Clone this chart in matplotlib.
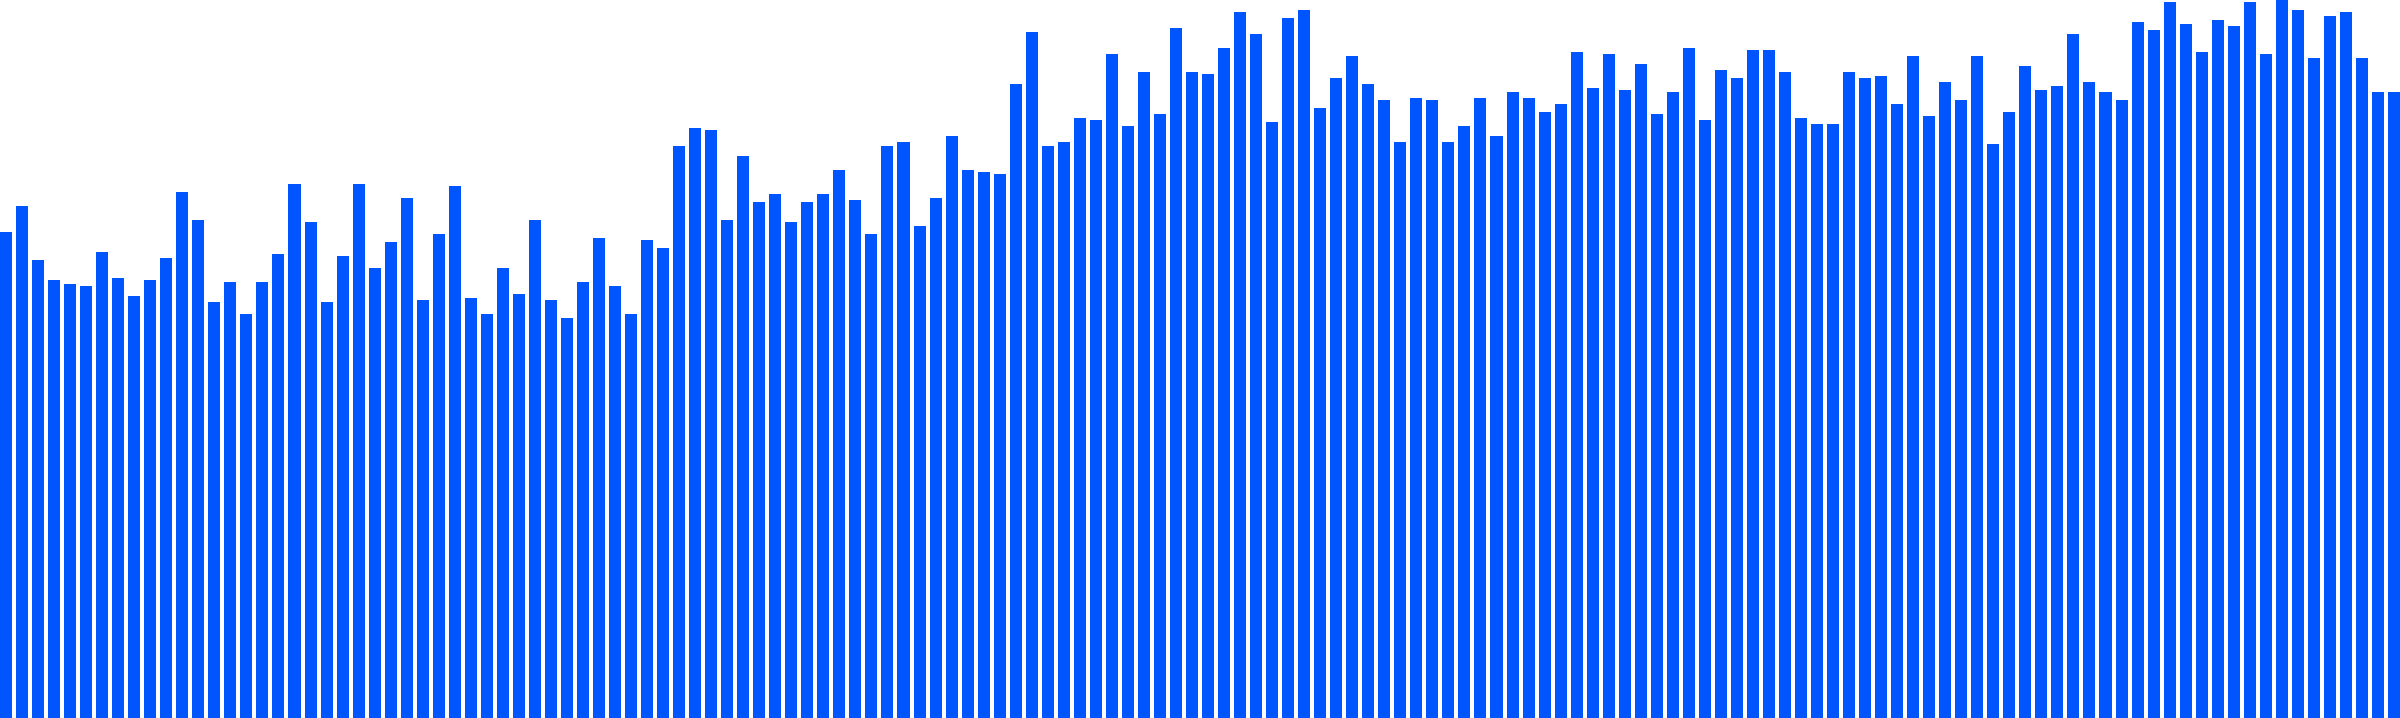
import matplotlib
matplotlib.use("Agg")
import matplotlib.pyplot as plt

# Bar values (scale max = 718)
bar_tops = [
    232, 206, 260, 280, 284, 286, 252, 278, 296, 280,
    258, 192, 220, 302, 282, 314, 282, 254, 184, 222,
    302, 256, 184, 268, 242, 198, 300, 234, 186, 298,
    314, 268, 294, 220, 300, 318, 282, 238, 286, 314,
    240, 248, 146, 128, 130, 220, 156, 202, 194, 222,
    202, 194, 170, 200, 234, 146, 142, 226, 198, 136,
    170, 172, 174, 84, 32, 146, 142, 118, 120, 54,
    126, 72, 114, 28, 72, 74, 48, 12, 34, 122,
    18, 10, 108, 78, 56, 84, 100, 142, 98, 100,
    142, 126, 98, 136, 92, 98, 112, 104, 52, 88,
    54, 90, 64, 114, 92, 48, 120, 70, 78, 50,
    50, 72, 118, 124, 124, 72, 78, 76, 104, 56,
    116, 82, 100, 56, 144, 112, 66, 90, 86, 34,
    82, 92, 100, 22, 30, 2, 24, 52, 20, 26,
    2, 54, 0, 10, 58, 16, 12, 58, 92, 92,
]
y_max = 718
values = [y_max - t for t in bar_tops]
categories = list(range(len(values)))

BAR_COLOR = "#0055FF"
padding = 0.25

fig = plt.figure(figsize=(24, 7.18), dpi=100)
ax = fig.add_axes([0, 0, 1, 1])
ax.bar(categories, values, width=1 - padding, align="edge", color=BAR_COLOR,
       linewidth=0)
ax.set_xlim(0, len(values) - padding)
ax.set_ylim(0, y_max)
ax.axis("off")
fig.savefig("out.png", dpi=100, facecolor="white")
